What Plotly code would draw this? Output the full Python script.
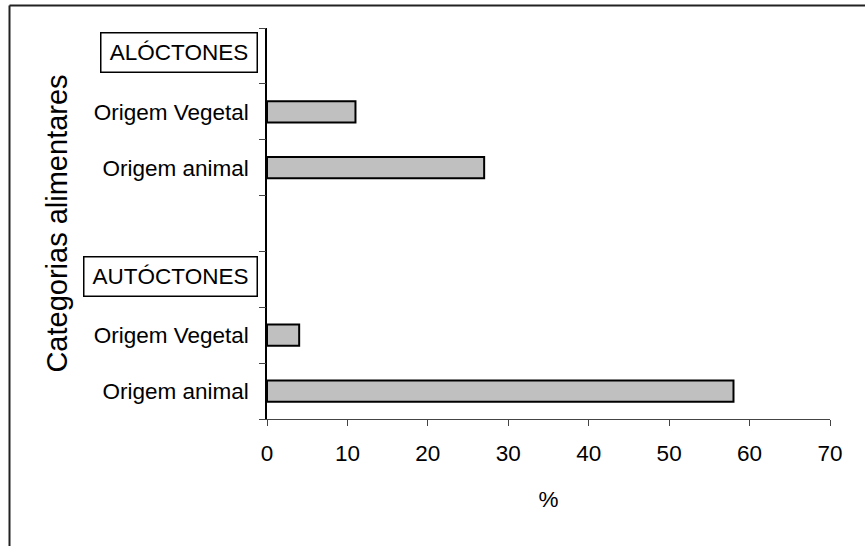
import plotly.graph_objects as go

# Data (top to bottom)
row_labels = ["ALÓCTONES", "Origem Vegetal", "Origem animal", "", "AUTÓCTONES", "Origem Vegetal", "Origem animal"]
row_values = [None, 11, 27, None, None, 4, 58]
header_rows = ["ALÓCTONES", "AUTÓCTONES"]
x_ticks = [0, 10, 20, 30, 40, 50, 60, 70]
x_title = "%"
y_title = "Categorias alimentares"

W, H = 865, 546
L, R, T, B = 267, 35, 28, 127
PW, PH = W - L - R, H - T - B

def px_to_paper_x(px):
    return (px - L) / PW

def px_to_paper_y(py):
    return (H - B - py) / PH

FONT = "Liberation Sans, Arial, sans-serif"
FS = 22.5
n = len(row_labels)
pos = list(range(n))

fig = go.Figure()
fig.add_trace(go.Bar(
    x=row_values, y=pos, orientation="h", width=0.38,
    marker=dict(color="#c0c0c0", line=dict(color="#000000", width=2)),
    hoverinfo="skip", showlegend=False,
))
# invisible trace for the boundary-tick axis
fig.add_trace(go.Scatter(x=[None], y=[None], yaxis="y2", showlegend=False, hoverinfo="skip"))

label_idx = [i for i, t in enumerate(row_labels) if t and t not in header_rows]

fig.update_layout(
    width=W, height=H,
    margin=dict(l=L, r=R, t=T, b=B, autoexpand=False),
    paper_bgcolor="white", plot_bgcolor="white",
    font=dict(family=FONT, color="#000000", size=FS),
    xaxis=dict(
        range=[0, 70], tickvals=x_ticks, ticks="outside", ticklen=6, tickwidth=1,
        tickcolor="#444", showline=True, linecolor="#444", linewidth=1,
        showgrid=False, zeroline=False, tickfont=dict(size=FS),
        ticklabelstandoff=8,
        title=dict(text=x_title, font=dict(size=FS), standoff=26),
        fixedrange=True,
    ),
    yaxis=dict(
        range=[n - 0.5, -0.5], tickvals=label_idx,
        ticktext=[row_labels[i] for i in label_idx], ticks="",
        ticklabelstandoff=12,
        showline=True, linecolor="#000", linewidth=1.5, showgrid=False, zeroline=False,
        tickfont=dict(size=FS),
        title=dict(text=y_title, font=dict(size=29), standoff=18),
        fixedrange=True,
    ),
    yaxis2=dict(
        overlaying="y", side="left", range=[n - 0.5, -0.5],
        tickvals=[i - 0.5 for i in range(n + 1)], ticks="outside", ticklen=7,
        tickcolor="#444", showticklabels=False, showgrid=False, zeroline=False,
        showline=False, fixedrange=True,
    ),
)

# Boxed group headers
header_widths = {"ALÓCTONES": 147, "AUTÓCTONES": 164}
for name in header_rows:
    idx = row_labels.index(name)
    fig.add_annotation(
        text=name, xref="paper", yref="y", x=px_to_paper_x(258), y=idx,
        xanchor="right", yanchor="middle", yshift=3, showarrow=False,
        width=header_widths[name], height=30, align="center", valign="middle",
        bordercolor="#000", borderwidth=1.5, borderpad=4,
        font=dict(size=FS, family=FONT),
    )

# Outer frame (top and left edges visible)
fig.add_shape(type="line", xref="paper", yref="paper",
              x0=px_to_paper_x(9.5), x1=px_to_paper_x(866), y0=px_to_paper_y(5.5), y1=px_to_paper_y(5.5),
              line=dict(color="#222", width=2))
fig.add_shape(type="line", xref="paper", yref="paper",
              x0=px_to_paper_x(9.5), x1=px_to_paper_x(9.5), y0=px_to_paper_y(5.5), y1=px_to_paper_y(547),
              line=dict(color="#222", width=2))

fig.write_html("out.html", config={"displayModeBar": False},
               post_script="document.body.style.margin='0';")
